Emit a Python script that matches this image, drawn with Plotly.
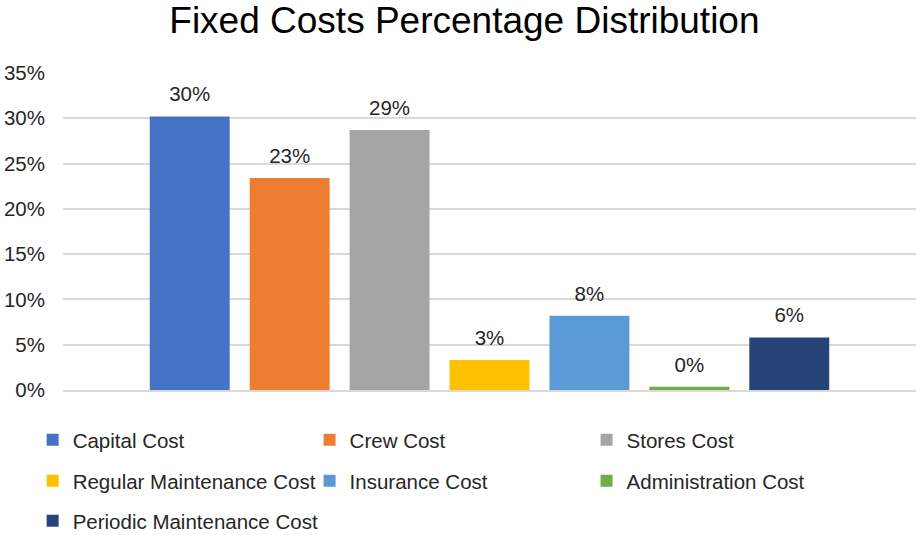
import plotly.graph_objects as go

series = ["Capital Cost", "Crew Cost", "Stores Cost", "Regular Maintenance Cost",
          "Insurance Cost", "Administration Cost", "Periodic Maintenance Cost"]
values = [0.302, 0.234, 0.287, 0.033, 0.082, 0.0035, 0.058]
colors = ["#4472C4", "#ED7D31", "#A5A5A5", "#FFC000", "#5B9BD5", "#70AD47", "#264478"]
category = [""]

FONT = "Liberation Sans, Arial, sans-serif"
FS = 20.5

# legend grid layout (3 columns, rows fill left to right)
LEG_COL_X = [-0.0356, 0.2891, 0.6138]
LEG_ROW_Y = [-0.0946, -0.224, -0.350]

fig = go.Figure()
legend_layout = {}
for i, (name, v, c) in enumerate(zip(series, values, colors)):
    lid = "legend" if i == 0 else f"legend{i + 1}"
    fig.add_trace(go.Bar(
        x=category, y=[v], name=name, legend=lid,
        marker=dict(color=c, line=dict(width=0)),
        hoverinfo="name+y",
    ))
    legend_layout[lid] = dict(
        x=LEG_COL_X[i % 3], y=LEG_ROW_Y[i // 3], xanchor="left", yanchor="top",
        orientation="v", font=dict(size=FS, color="#262626", family=FONT),
        bgcolor="rgba(0,0,0,0)",
    )
# data labels: invisible grouped scatter points carrying the text
for name, v in zip(series, values):
    fig.add_trace(go.Scatter(
        x=category, y=[v], mode="markers+text", showlegend=False,
        marker=dict(size=14.4, color="rgba(0,0,0,0)"),
        texttemplate="%{y:.0%}", textposition="top center",
        textfont=dict(size=FS, color="#262626", family=FONT),
        cliponaxis=False, hoverinfo="skip",
    ))

fig.update_layout(
    width=916, height=535,
    paper_bgcolor="white", plot_bgcolor="white",
    margin=dict(l=63, r=0, t=73, b=145, autoexpand=False),
    barmode="group", bargap=0.18, bargroupgap=0.2,
    scattermode="group", scattergap=0.18,
    title=dict(text="Fixed Costs Percentage Distribution", x=0.507, xanchor="center",
               y=0.962, yanchor="middle",
               font=dict(size=37, color="#000000", family=FONT)),
    font=dict(family=FONT, color="#262626"),
    xaxis=dict(showticklabels=False, showline=True, linecolor="#D9D9D9", linewidth=2,
               ticks=""),
    yaxis=dict(range=[0, 0.35], dtick=0.05, tickformat=".0%", showgrid=True,
               gridcolor="#D9D9D9", gridwidth=2, zeroline=False, ticks="",
               tickfont=dict(size=FS, color="#262626"), ticklabelstandoff=17),
    showlegend=True,
    **legend_layout,
)

fig.write_html("out.html")
